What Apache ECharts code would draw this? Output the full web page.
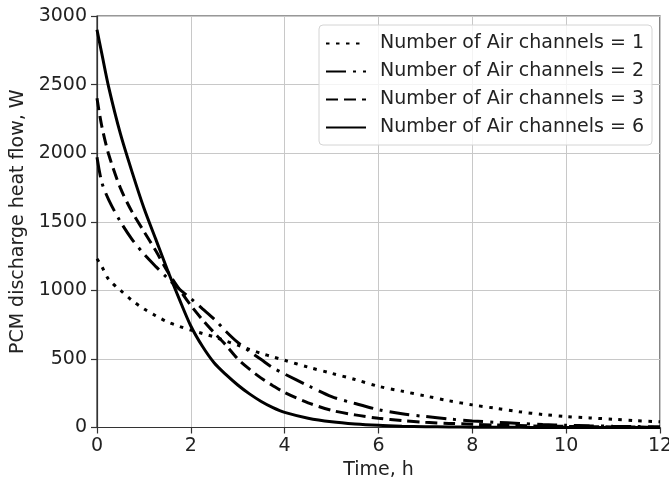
<!DOCTYPE html>
<html>
<head>
<meta charset="utf-8">
<script src="https://cdn.jsdelivr.net/npm/echarts@6/dist/echarts.min.js"></script>
<style>
html,body{margin:0;padding:0;background:#fff;}
#c{width:669px;height:480px;}
</style>
</head>
<body>
<div id="c"></div>
<script>
// Time, h
const times = [0, 0.1, 0.25, 0.5, 0.75, 1, 1.25, 1.5, 1.75, 2, 2.25, 2.5, 2.75, 3, 3.25, 3.5, 3.75, 4, 4.5, 5, 5.5, 6, 6.5, 7, 7.5, 8, 8.5, 9, 9.5, 10, 10.5, 11, 11.5, 12];
// PCM discharge heat flow, W
const ch1 = [1230, 1175, 1080, 1000, 925, 865, 815, 770, 738, 710, 685, 660, 630, 600, 570, 540, 515, 490, 440, 395, 350, 300, 265, 230, 195, 165, 140, 115, 95, 80, 70, 60, 50, 42];
const ch2 = [1970, 1790, 1660, 1500, 1370, 1265, 1175, 1090, 1010, 940, 865, 790, 700, 620, 555, 495, 435, 390, 305, 225, 175, 130, 100, 80, 62, 48, 38, 30, 22, 16, 12, 9, 7, 5];
const ch3 = [2400, 2200, 1990, 1745, 1570, 1430, 1290, 1140, 1010, 890, 785, 690, 600, 500, 425, 360, 305, 255, 180, 125, 92, 67, 50, 38, 30, 24, 18, 14, 10, 8, 6, 4, 3, 2];
const ch6 = [2900, 2730, 2480, 2140, 1860, 1600, 1375, 1150, 940, 740, 590, 470, 385, 310, 245, 190, 145, 110, 68, 42, 26, 16, 10, 6, 4, 2, 1, 1, 0, 0, 0, 0, 0, 0];
const seriesNames = ['Number of Air channels = 1', 'Number of Air channels = 2', 'Number of Air channels = 3', 'Number of Air channels = 6'];
const xTicks = [0, 2, 4, 6, 8, 10, 12];
const yTicks = [0, 500, 1000, 1500, 2000, 2500, 3000];

const FONT = 'DejaVu Sans';
const FS = 19;
const pair = arr => times.map((t, i) => [t, arr[i]]);
const dashStyles = [[3.5, 6.5], [20, 7, 3, 7], [12, 6], 'solid'];
const allData = [ch1, ch2, ch3, ch6];

const chart = echarts.init(document.getElementById('c'), null, {renderer: 'canvas'});
chart.setOption({
  animation: false,
  backgroundColor: '#fff',
  textStyle: {fontFamily: FONT},
  grid: {left: 97, top: 16, right: 9, bottom: 52.5, containLabel: false, outerBoundsMode: 'none',
         show: true, borderColor: '#333', borderWidth: 1.2, backgroundColor: 'transparent'},
  legend: {
    orient: 'vertical', left: 319, top: 25,
    padding: [9, 8, 8, 6],
    itemWidth: 40, itemHeight: 18, itemGap: 9,
    backgroundColor: 'rgba(255,255,255,0.8)', borderColor: '#d4d4d4', borderWidth: 1, borderRadius: 4,
    itemStyle: {opacity: 0, borderWidth: 0},
    textStyle: {fontFamily: FONT, fontSize: FS, color: '#222', padding: [0, 0, 0, 9]},
    data: seriesNames
  },
  xAxis: {
    type: 'value', min: xTicks[0], max: xTicks[xTicks.length - 1], interval: 2,
    name: 'Time, h', nameLocation: 'middle', nameGap: 27,
    nameTextStyle: {fontFamily: FONT, fontSize: FS, color: '#222'},
    axisLine: {show: true, onZero: false, lineStyle: {color: '#333', width: 1.2}},
    axisTick: {show: true, length: 6, inside: false, lineStyle: {color: '#333', width: 1.2}},
    axisLabel: {fontFamily: FONT, fontSize: FS, color: '#222', margin: 9, formatter: v => String(v)},
    splitLine: {show: true, lineStyle: {color: '#c8c8c8', width: 1}}
  },
  yAxis: {
    type: 'value', min: yTicks[0], max: yTicks[yTicks.length - 1], interval: 500,
    name: 'PCM discharge heat flow, W', nameLocation: 'middle', nameGap: 58,
    nameTextStyle: {fontFamily: FONT, fontSize: FS, color: '#222'},
    axisLine: {show: true, onZero: false, lineStyle: {color: '#333', width: 1.2}},
    axisTick: {show: true, length: 6, inside: false, lineStyle: {color: '#333', width: 1.2}},
    axisLabel: {fontFamily: FONT, fontSize: FS, color: '#222', margin: 10, formatter: v => String(v)},
    splitLine: {show: true, lineStyle: {color: '#c8c8c8', width: 1}}
  },
  series: seriesNames.map((n, i) => ({
    name: n, type: 'line', data: pair(allData[i]),
    symbol: 'none', showSymbol: false, smooth: 0.3,
    lineStyle: {color: '#000', width: 3, type: dashStyles[i], cap: 'butt'},
    itemStyle: {color: '#000'},
    z: 3
  }))
});
</script>
</body>
</html>
